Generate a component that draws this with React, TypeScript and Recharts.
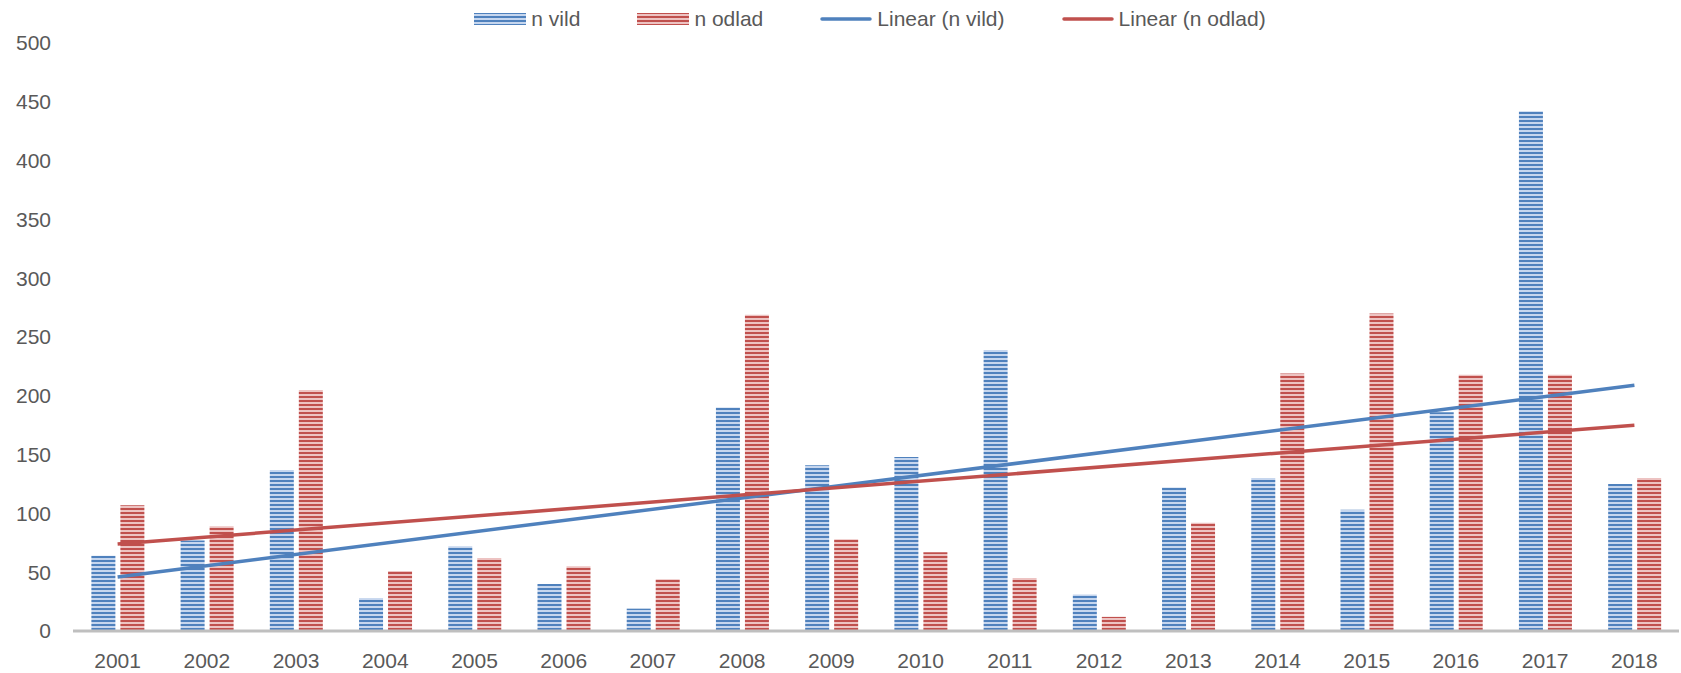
import React from 'react';
import { ComposedChart, Bar, Line, XAxis, YAxis, Legend } from 'recharts';

const years = ['2001', '2002', '2003', '2004', '2005', '2006', '2007', '2008', '2009', '2010', '2011', '2012', '2013', '2014', '2015', '2016', '2017', '2018'];
const nVild = [64, 77, 137, 28, 72, 40, 19, 190, 141, 148, 239, 31, 122, 130, 103, 186, 442, 125];
const nOdlad = [107, 89, 205, 51, 62, 55, 44, 269, 78, 67, 45, 12, 92, 219, 270, 218, 218, 130];
// trendline end points
const linearVild = [46, null, null, null, null, null, null, null, null, null, null, null, null, null, null, null, null, 209];
const linearOdlad = [74, null, null, null, null, null, null, null, null, null, null, null, null, null, null, null, null, 175];
const yTicks = [0, 50, 100, 150, 200, 250, 300, 350, 400, 450, 500];
const legendOrder = ['n vild', 'n odlad', 'Linear (n vild)', 'Linear (n odlad)'];

const data = years.map((year, i) => ({
  year,
  vild: nVild[i],
  odlad: nOdlad[i],
  linVild: linearVild[i],
  linOdlad: linearOdlad[i],
}));

const FONT = '"Liberation Sans", Arial, sans-serif';
const TEXT = '#595959';
const BLUE = '#4F81BD';
const RED = '#C0504D';

const renderLegend = (props: any) => {
  const items = [...(props.payload || [])].sort(
    (a: any, b: any) => legendOrder.indexOf(a.value) - legendOrder.indexOf(b.value)
  );
  return (
    <div style={{ display: 'flex', justifyContent: 'center', alignItems: 'center', gap: 57 }}>
      {items.map((entry: any) => (
        <div key={entry.value} style={{ display: 'flex', alignItems: 'center', gap: 5 }}>
          <svg width={52} height={14}>
            {entry.type === 'line' ? (
              <line x1={2} x2={50} y1={7} y2={7} stroke={entry.color} strokeWidth={3.5} strokeLinecap="round" />
            ) : (
              <rect x={0} y={1} width={52} height={12} fill={entry.color} />
            )}
          </svg>
          <span style={{ fontSize: 21, color: TEXT, fontFamily: FONT, lineHeight: '24px' }}>{entry.value}</span>
        </div>
      ))}
    </div>
  );
};

export default function App() {
  return (
    <div style={{ position: 'absolute', left: 0, top: 0, width: 1681, height: 673, background: '#fff' }}>
      <svg width={0} height={0} style={{ position: 'absolute' }}>
        <defs>
          <pattern id="stripeVild" patternUnits="userSpaceOnUse" width={8} height={4}>
            <rect x={0} y={0} width={8} height={4} fill="#C6D6EE" />
            <rect x={0} y={0} width={8} height={2} fill={BLUE} />
          </pattern>
          <pattern id="stripeOdlad" patternUnits="userSpaceOnUse" width={8} height={4}>
            <rect x={0} y={0} width={8} height={4} fill="#EDC3C2" />
            <rect x={0} y={0} width={8} height={2} fill={RED} />
          </pattern>
        </defs>
      </svg>
      <ComposedChart
        width={1681}
        height={673}
        data={data}
        margin={{ top: 43, right: 2, left: 0, bottom: 0 }}
        barGap={5}
        barCategoryGap="20.6%"
      >
        <XAxis
          dataKey="year"
          height={42}
          axisLine={{ stroke: '#BFBFBF', strokeWidth: 3 }}
          tickLine={false}
          tickSize={0}
          tickMargin={22}
          tick={{ fill: TEXT, fontSize: 21, fontFamily: FONT }}
        />
        <YAxis
          width={73}
          domain={[0, 500]}
          ticks={yTicks}
          axisLine={false}
          tickLine={false}
          tickSize={0}
          tickMargin={22}
          tick={{ fill: TEXT, fontSize: 21, fontFamily: FONT }}
        />
        <Legend
          verticalAlign="middle"
          layout="horizontal"
          content={renderLegend}
          wrapperStyle={{ top: 7, left: 60, width: 1620 }}
        />
        <Bar dataKey="vild" name="n vild" fill="url(#stripeVild)" legendType="rect" isAnimationActive={false} />
        <Bar dataKey="odlad" name="n odlad" fill="url(#stripeOdlad)" legendType="rect" isAnimationActive={false} />
        <Line
          type="linear"
          dataKey="linVild"
          name="Linear (n vild)"
          stroke={BLUE}
          strokeWidth={3.5}
          dot={false}
          activeDot={false}
          connectNulls
          legendType="line"
          isAnimationActive={false}
        />
        <Line
          type="linear"
          dataKey="linOdlad"
          name="Linear (n odlad)"
          stroke={RED}
          strokeWidth={3.5}
          dot={false}
          activeDot={false}
          connectNulls
          legendType="line"
          isAnimationActive={false}
        />
      </ComposedChart>
    </div>
  );
}
